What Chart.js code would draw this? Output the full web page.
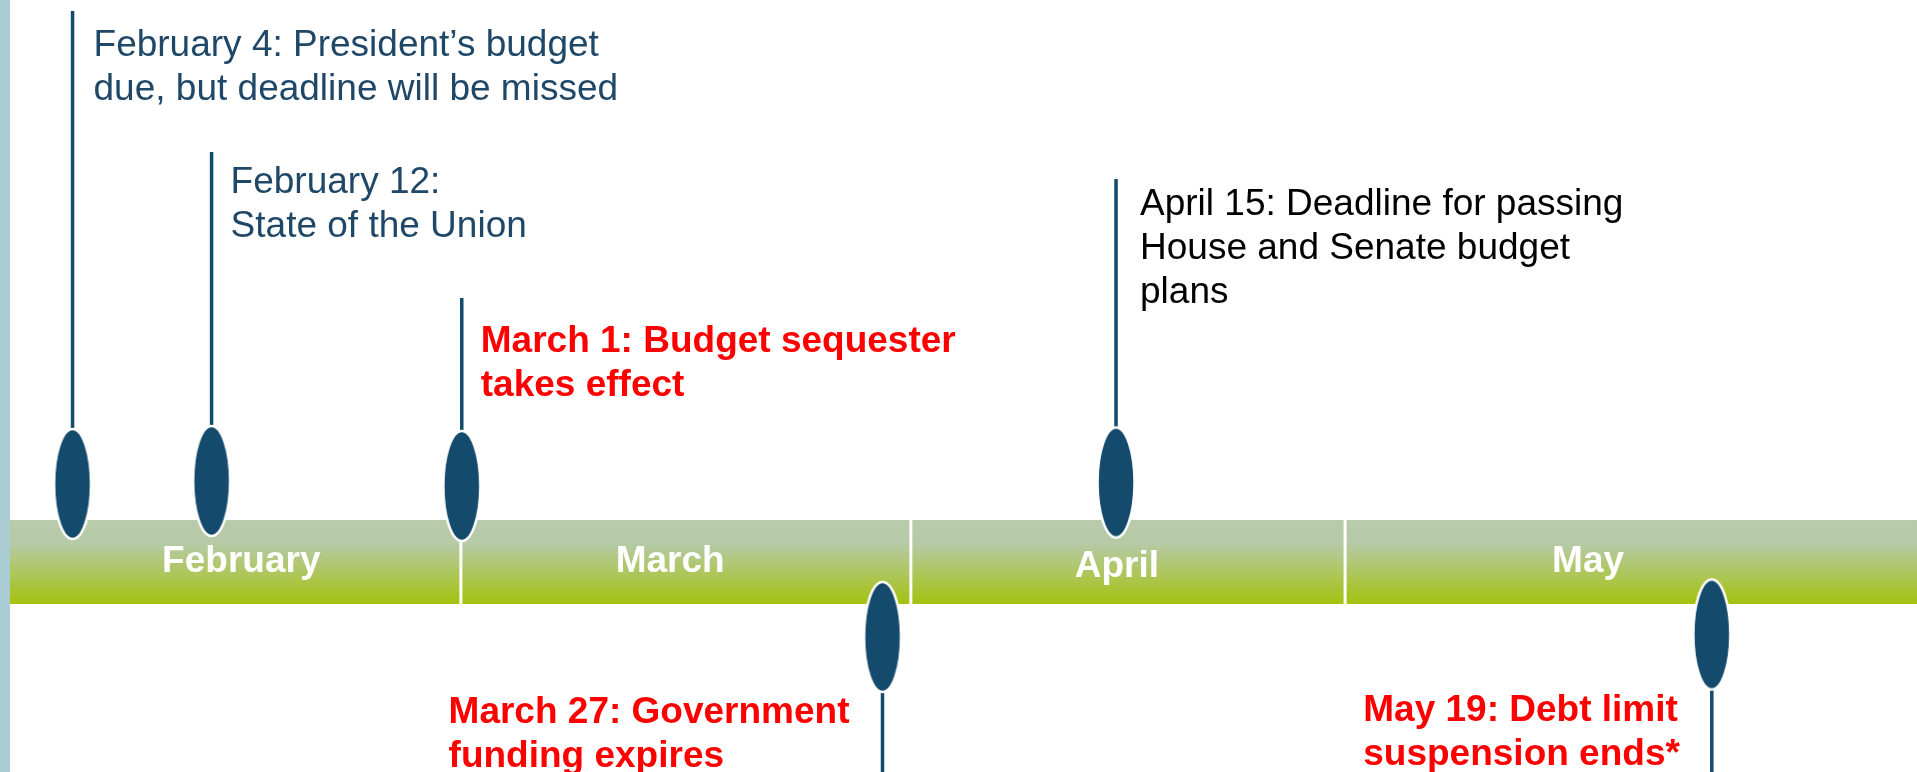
<!DOCTYPE html>
<html>
<head>
<meta charset="utf-8">
<script src="https://cdn.jsdelivr.net/npm/chart.js@4"></script>
<style>
  html, body { margin: 0; padding: 0; background: #fff; overflow: hidden; }
  .wrap { display: flex; width: 1917px; height: 772px; }
  .edge { width: 10px; height: 772px; background: #aacdd4; }
</style>
</head>
<body>
<div class="wrap">
  <div class="edge"></div>
  <canvas id="timeline" width="1907" height="772"></canvas>
</div>
<script>
// timeline units: months since Feb 1, as drawn
const months = ['February', 'March', 'April', 'May'];
const monthStarts = [0, 1.002, 2.002, 2.967];
const monthLabelPos = [0.514, 1.467, 2.46, 3.507];
const timelineEnd = 4.238;

const eventDates = ['Feb 4', 'Feb 12', 'Mar 1', 'Mar 27', 'Apr 15', 'May 19'];
const eventPos = [0.139, 0.448, 1.004, 1.939, 2.458, 3.782];
// marker height above (+) or below (-) the middle of the band
const markerLevel = [78, 81, 76, -75, 79.5, -72.5];
const stemEnd = [551, 410, 264, -210, 383, -210];
const eventText = [
    ['February 4: President’s budget', 'due, but deadline will be missed'],
    ['February 12:', 'State of the Union'],
    ['March 1: Budget sequester', 'takes effect'],
    ['March 27: Government', 'funding expires'],
    ['April 15: Deadline for passing', 'House and Senate budget', 'plans'],
    ['May 19: Debt limit', 'suspension ends*']
];
const eventKind = ['info', 'info', 'alert', 'alert', 'plain', 'alert'];

const bandHalf = 42;

// styles
const navy = '#144a6b';
const textColors = { info: '#1f4768', alert: '#ff0000', plain: '#000000' };
const labelDrop = [45, 41, 54, 0, 36, 0];
const labelGap = [21, 19, 19, 33, 24, 34];
const fontFamily = '"Liberation Sans", Arial, sans-serif';

function makeEllipse() {
    const c = document.createElement('canvas');
    c.width = 42;
    c.height = 116;
    const g = c.getContext('2d');
    g.beginPath();
    g.ellipse(21, 58, 18.5, 55, 0, 0, Math.PI * 2);
    g.fillStyle = navy;
    g.fill();
    g.lineWidth = 2.5;
    g.strokeStyle = '#ffffff';
    g.stroke();
    return c;
}

const dividerData = [];
monthStarts.slice(1).forEach(x => {
    dividerData.push({ x: x, y: bandHalf }, { x: x, y: -bandHalf }, { x: x, y: null });
});

const stemData = [];
eventPos.forEach((x, i) => {
    stemData.push({ x: x, y: stemEnd[i] }, { x: x, y: markerLevel[i] }, { x: x, y: null });
});

const labelsPlugin = {
    id: 'timelineLabels',
    afterDatasetsDraw(chart) {
        const { ctx, scales } = chart;
        ctx.save();
        // month names on the band
        ctx.font = 'bold 37px ' + fontFamily;
        ctx.fillStyle = '#ffffff';
        ctx.textAlign = 'center';
        ctx.textBaseline = 'middle';
        const monthDy = [0, 0, 5, 0];
        months.forEach((m, i) => {
            ctx.fillText(m, scales.x.getPixelForValue(monthLabelPos[i]), scales.y.getPixelForValue(0) + monthDy[i]);
        });

        // event notes: above the band to the right of the stem, below it to the left
        ctx.textAlign = 'left';
        ctx.textBaseline = 'alphabetic';
        eventText.forEach((lines, i) => {
            const kind = eventKind[i];
            ctx.font = (kind === 'alert' ? 'bold ' : '') + '37px ' + fontFamily;
            ctx.fillStyle = textColors[kind];
            const sx = scales.x.getPixelForValue(eventPos[i]);
            let x, y;
            if (markerLevel[i] > 0) {
                x = sx + labelGap[i];
                y = scales.y.getPixelForValue(stemEnd[i]) + labelDrop[i];
            } else {
                x = sx - labelGap[i] - ctx.measureText(lines[0]).width;
                y = scales.y.getPixelForValue(markerLevel[i]) + 86;
            }
            lines.forEach((t, j) => ctx.fillText(t, x, y + j * 44));
        });
        ctx.restore();
    }
};

const ctx = document.getElementById('timeline').getContext('2d');
const chart = new Chart(ctx, {
    type: 'scatter',
    data: {
        datasets: [{
            label: 'band',
            data: [{ x: 0, y: bandHalf }, { x: timelineEnd, y: bandHalf }],
            showLine: true,
            borderWidth: 0,
            pointRadius: 0,
            fill: { value: -bandHalf },
            backgroundColor(context) {
                const { chart } = context;
                if (!chart.chartArea) return '#b0c760';
                const top = chart.scales.y.getPixelForValue(bandHalf);
                const bottom = chart.scales.y.getPixelForValue(-bandHalf);
                const grad = chart.ctx.createLinearGradient(0, top, 0, bottom);
                grad.addColorStop(0, '#b8cbab');
                grad.addColorStop(0.28, '#b6caa6');
                grad.addColorStop(1, '#a5c20f');
                return grad;
            },
            order: 4
        }, {
            label: 'month dividers',
            data: dividerData,
            showLine: true,
            spanGaps: false,
            borderColor: '#ffffff',
            borderWidth: 3,
            pointRadius: 0,
            order: 3
        }, {
            label: 'stems',
            data: stemData,
            showLine: true,
            spanGaps: false,
            borderColor: navy,
            borderWidth: 3.5,
            pointRadius: 0,
            order: 2
        }, {
            label: 'events',
            data: eventPos.map((x, i) => ({ x: x, y: markerLevel[i] })),
            pointStyle: makeEllipse(),
            pointRadius: 20,
            order: 1
        }]
    },
    options: {
        responsive: false,
        devicePixelRatio: 1,
        animation: false,
        layout: { padding: 0, autoPadding: false },
        plugins: {
            legend: { display: false },
            tooltip: { enabled: false }
        },
        scales: {
            x: { type: 'linear', min: 0, max: timelineEnd, display: false },
            y: { type: 'linear', min: -210, max: 562, display: false }
        }
    },
    plugins: [labelsPlugin]
});
</script>
</body>
</html>
